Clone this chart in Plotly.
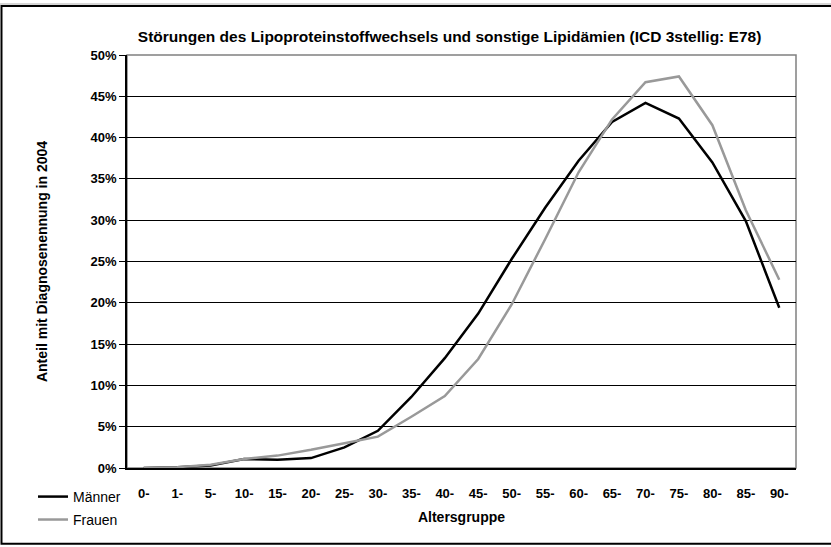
import plotly.graph_objects as go

FONT = "Liberation Sans, Arial, sans-serif"

age_groups = ["0-", "1-", "5-", "10-", "15-", "20-", "25-", "30-", "35-", "40-",
              "45-", "50-", "55-", "60-", "65-", "70-", "75-", "80-", "85-", "90-"]
maenner = [0.0, 0.1, 0.3, 1.1, 1.0, 1.2, 2.5, 4.5, 8.6, 13.3,
           18.7, 25.3, 31.5, 37.2, 41.9, 44.2, 42.3, 37.0, 29.9, 19.4]
frauen = [0.0, 0.1, 0.4, 1.1, 1.5, 2.2, 3.0, 3.8, 6.2, 8.7,
          13.2, 19.8, 27.7, 35.8, 42.2, 46.7, 47.4, 41.5, 31.2, 22.8]
y_ticks = [0, 5, 10, 15, 20, 25, 30, 35, 40, 45, 50]
y_labels = [f"{v}%" for v in y_ticks]

fig = go.Figure()
fig.add_trace(go.Scatter(
    x=age_groups, y=maenner, mode="lines", name="Männer",
    line=dict(color="#000000", width=2.5), legend="legend",
))
fig.add_trace(go.Scatter(
    x=age_groups, y=frauen, mode="lines", name="Frauen",
    line=dict(color="#999999", width=2.5), legend="legend2",
))

# thin grey strip above the outer frame
fig.add_shape(type="line", xref="paper", yref="paper",
              x0=-0.2, x1=1.07, y0=1.1232, y1=1.1232,
              line=dict(color="#c8c8c8", width=1.5), layer="below")
# outer chart frame (right edge lies outside the picture)
fig.add_shape(type="rect", xref="paper", yref="paper",
              x0=-0.1876, x1=1.07, y0=-0.1836, y1=1.1184,
              line=dict(color="#000000", width=2), layer="below")
# plot area frame
fig.add_shape(type="rect", xref="paper", yref="paper",
              x0=0, x1=1, y0=0, y1=1,
              line=dict(color="#808080", width=1.5), layer="below")

legend_style = dict(
    xanchor="left", yanchor="middle",
    font=dict(size=14, family=FONT),
    bgcolor="rgba(0,0,0,0)",
)

fig.update_layout(
    width=831, height=547,
    margin=dict(l=127, r=35, t=55, b=78),
    paper_bgcolor="white", plot_bgcolor="white",
    font=dict(family=FONT, size=12, color="#000000"),
    title=dict(
        text="<b>Störungen des Lipoproteinstoffwechsels und sonstige Lipidämien (ICD 3stellig: E78)</b>",
        x=0.541, xanchor="center", y=0.934, yanchor="middle",
        font=dict(size=15.5),
    ),
    xaxis=dict(
        type="category", range=[-0.5, 19.5],
        showgrid=False, showline=True, linecolor="#000000", linewidth=1.5,
        ticks="", ticklabelstandoff=13,
        tickfont=dict(size=13, family=FONT, weight="bold"),
        title=dict(text="<b>Altersgruppe</b>", font=dict(size=14), standoff=12),
    ),
    yaxis=dict(
        range=[0, 50], tickvals=y_ticks, ticktext=y_labels,
        showgrid=True, gridcolor="#000000", gridwidth=1,
        showline=True, linecolor="#000000", linewidth=1.5,
        ticks="outside", ticklen=6, tickcolor="#000000",
        tickfont=dict(size=13, family=FONT, weight="bold"),
        title=dict(text="<b>Anteil mit Diagnosenennung in 2004</b>", font=dict(size=14), standoff=40),
        zeroline=False,
    ),
    legend=dict(x=-0.1405, y=-0.0676, **legend_style),
    legend2=dict(x=-0.1405, y=-0.123, **legend_style),
    showlegend=True,
)

fig.write_html(
    "out.html",
    config={"displayModeBar": False},
    post_script="document.body.style.margin='0';",
)
